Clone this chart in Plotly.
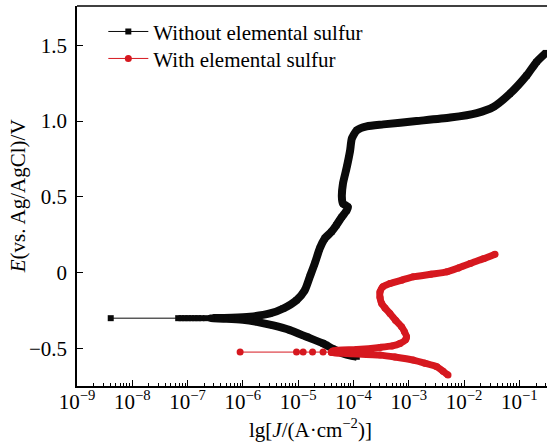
import numpy as np
import plotly.graph_objects as go

# ---------------- data ----------------
# lg J values (log10 of A/cm^2) and potentials E (V vs Ag/AgCl)

# Without elemental sulfur: dense scan (cathodic end -> Ecorr -> anodic)
black_lgJ = [-3.94, -4.05, -4.19, -4.37, -4.55, -4.85, -5.15, -5.45, -5.75, -6.00, -6.30, -6.57,
             -6.20, -5.87, -5.51, -5.27, -5.03, -4.88, -4.79, -4.70, -4.61, -4.52, -4.40, -4.31,
             -4.21, -4.12, -4.10, -4.19, -4.21, -4.19, -4.12, -4.06, -4.03, -3.94, -3.76, -3.46,
             -2.86, -2.25, -1.77, -1.47, -1.17, -0.87, -0.69, -0.52]
black_E = [-0.557, -0.550, -0.535, -0.505, -0.469, -0.425, -0.381, -0.350, -0.326, -0.312, -0.305, -0.302,
           -0.300, -0.293, -0.271, -0.238, -0.183, -0.117, -0.029, 0.059, 0.158, 0.224, 0.268, 0.312,
           0.367, 0.411, 0.433, 0.455, 0.499, 0.587, 0.697, 0.807, 0.884, 0.939, 0.965, 0.978,
           1.000, 1.023, 1.053, 1.093, 1.181, 1.300, 1.390, 1.450]
# Without elemental sulfur: sparse points near Ecorr
black_sparse_lgJ = [-8.39, -7.17, -7.11, -7.05, -6.99, -6.93, -6.87, -6.81, -6.75, -6.67, -6.57]
black_sparse_E = [-0.302] * 11

# With elemental sulfur: dense scan (cathodic end -> Ecorr -> anodic)
red_lgJ = [-2.29, -2.38, -2.49, -2.71, -2.92, -3.25, -3.52, -4.12, -4.40,
           -4.37, -3.94, -3.52, -3.30, -3.16, -3.06, -3.04, -3.08, -3.13, -3.24, -3.34, -3.43,
           -3.49, -3.52, -3.52, -3.47, -3.34, -3.12, -2.92, -2.60, -2.31, -2.10, -1.89, -1.65, -1.44]
red_E = [-0.678, -0.652, -0.623, -0.599, -0.579, -0.559, -0.546, -0.535, -0.528,
         -0.518, -0.509, -0.495, -0.485, -0.469, -0.445, -0.425, -0.390, -0.359, -0.315, -0.271, -0.235,
         -0.205, -0.165, -0.128, -0.095, -0.073, -0.050, -0.029, -0.012, 0.004, 0.030, 0.059, 0.090, 0.120]
# With elemental sulfur: sparse points near Ecorr
red_sparse_lgJ = [-6.05, -5.03, -4.91, -4.74, -4.55, -4.40]
red_sparse_E = [-0.526] * 6

series_names = ["Without elemental sulfur", "With elemental sulfur"]
x_tick_exp = [-9, -8, -7, -6, -5, -4, -3, -2, -1]
y_tick_vals = [-0.5, 0, 0.5, 1.0, 1.5]
y_tick_text = ["\u22120.5", "0", "0.5", "1.0", "1.5"]
x_title = "lg[<i>J</i>/(A\u00b7cm<sup>\u22122</sup>)]"
y_title = "<i>E</i>(vs. Ag/AgCl)/V"

BLACK = "#0a0a0a"
RED = "#d6181f"
FONT = "Liberation Serif"


def to_J(vals):
    return [10 ** v for v in vals]


fig = go.Figure()

fig.add_trace(go.Scatter(
    x=to_J(black_lgJ), y=black_E, mode="lines+markers", showlegend=False,
    line=dict(color=BLACK, width=8, shape="spline", smoothing=0.6),
    marker=dict(symbol="square", size=6, color=BLACK),
    hoverinfo="skip"))
fig.add_trace(go.Scatter(
    x=to_J(black_sparse_lgJ), y=black_sparse_E, mode="lines+markers", name=series_names[0],
    line=dict(color=BLACK, width=1),
    marker=dict(symbol="square", size=6, color=BLACK), legend="legend"))
fig.add_trace(go.Scatter(
    x=to_J(red_lgJ), y=red_E, mode="lines+markers", showlegend=False,
    line=dict(color=RED, width=7, shape="spline", smoothing=0.6),
    marker=dict(symbol="circle", size=7, color=RED),
    hoverinfo="skip"))
fig.add_trace(go.Scatter(
    x=to_J(red_sparse_lgJ), y=red_sparse_E, mode="lines+markers", name=series_names[1],
    line=dict(color=RED, width=1),
    marker=dict(symbol="circle", size=7, color=RED), legend="legend2"))

fig.update_xaxes(
    type="log", range=[-9, -0.5],
    tickmode="array", tickvals=[10 ** e for e in x_tick_exp],
    ticktext=["10<sup>\u2212%d</sup>" % (-e) for e in x_tick_exp],
    ticks="inside", ticklen=6, tickwidth=1.2, tickcolor="black",
    minor=dict(ticks="inside", ticklen=3, tickwidth=1, tickcolor="black", dtick="D1", showgrid=False),
    showline=True, linecolor="black", linewidth=1.5,
    showgrid=False, zeroline=False,
    tickfont=dict(family=FONT, size=21, color="black"),
    ticklabelstandoff=-4,
)
fig.update_yaxes(
    range=[-0.75, 1.76],
    tickmode="array", tickvals=y_tick_vals, ticktext=y_tick_text,
    ticks="inside", ticklen=6, tickwidth=1.2, tickcolor="black",
    showline=True, linecolor="black", linewidth=1.5,
    showgrid=False, zeroline=False,
    tickfont=dict(family=FONT, size=21, color="black"),
    ticklabelstandoff=4,
)

fig.add_shape(type="line", xref="paper", yref="paper", x0=0, x1=1, y0=1, y1=1,
              line=dict(color="black", width=1.5))

# axis titles as annotations (paper coordinates)
fig.add_annotation(text=x_title, xref="paper", yref="paper", x=0.497, y=-0.113,
                   xanchor="center", yanchor="middle", showarrow=False,
                   font=dict(family=FONT, size=21, color="black"))
fig.add_annotation(text=y_title, xref="paper", yref="paper", x=-0.125, y=0.5,
                   xanchor="center", yanchor="middle", showarrow=False, textangle=-90,
                   font=dict(family=FONT, size=21, color="black"))

leg_common = dict(xanchor="left", yanchor="top", bgcolor="rgba(0,0,0,0)", borderwidth=0,
                  font=dict(family=FONT, size=21, color="black"), itemwidth=40)
fig.update_layout(
    width=547, height=444,
    margin=dict(l=77, r=0, t=6, b=58),
    paper_bgcolor="white", plot_bgcolor="white",
    showlegend=True,
    legend=dict(x=0.056, y=0.986, **leg_common),
    legend2=dict(x=0.056, y=0.915, **leg_common),
)

fig.write_html("out.html")
